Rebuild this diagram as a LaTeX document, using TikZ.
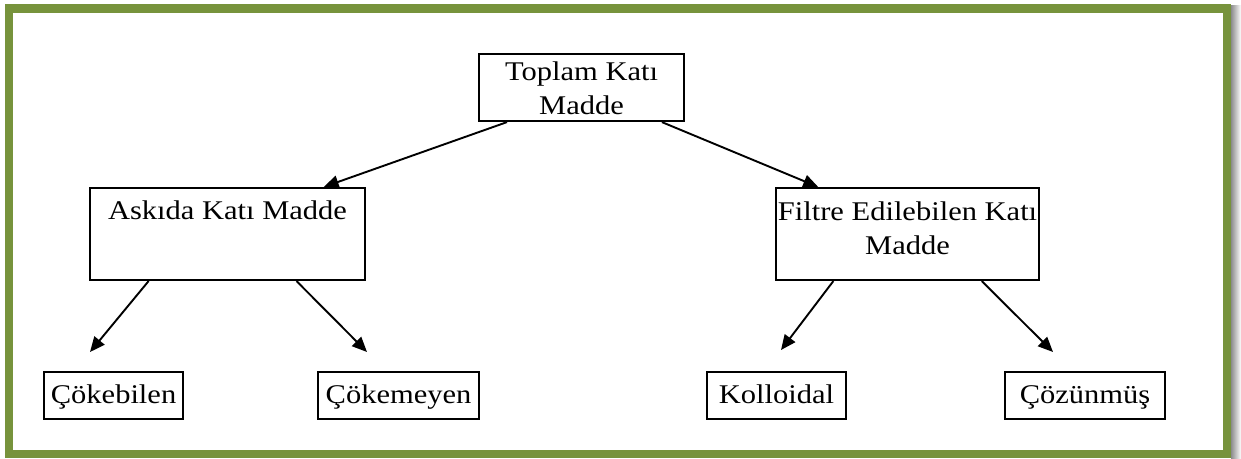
\documentclass[tikz,border=0pt]{standalone}
\usepackage{fontspec}
\setmainfont[FakeStretch=1.13]{Liberation Serif}
\usetikzlibrary{arrows.meta,calc}
\definecolor{frameolive}{RGB}{119,147,60}
% box content: width, height, first-baseline depth from top, lines
\newcommand\boxlines[4]{\parbox[c][#2][t]{#1}{\centering\rule{0pt}{#3}#4}}

\begin{document}
\begin{tikzpicture}[x=1pt,y=-1pt,
  box/.style={draw, line width=2.1pt, inner sep=0pt, anchor=north west,
    font=\fontsize{27}{34}\selectfont},
  link/.style={line width=1.9pt, -{Triangle[length=15pt,width=13pt]}}]
  \useasboundingbox (0,0) rectangle (1241,458);

  % page frame with its shadow
  \shade[left color=black!45, right color=white] (1231,5) rectangle (1241,458);
  \draw[frameolive, line width=8.5pt] (9,8.5) rectangle (1227,454);

  % boxes
  \node[box] (total) at (478,53) {\boxlines{205pt}{67pt}{26pt}{Toplam Katı\\Madde}};
  \node[box] (susp) at (89,187) {\boxlines{275pt}{92pt}{31pt}{Askıda Katı Madde}};
  \node[box] (filt) at (775,187) {\boxlines{263pt}{92pt}{32pt}{Filtre Edilebilen Katı\\Madde}};
  \node[box] (settl) at (43,371) {\boxlines{139pt}{47pt}{31pt}{Çökebilen}};
  \node[box] (nonsettl) at (317,371) {\boxlines{161pt}{47pt}{31pt}{Çökemeyen}};
  \node[box] (coll) at (706,371) {\boxlines{139pt}{47pt}{31pt}{Kolloidal}};
  \node[box] (diss) at (1004,371) {\boxlines{160pt}{47pt}{31pt}{Çözünmüş}};

  % free arrow ends above the lower boxes
  \coordinate (tipSettl) at (90,352);
  \coordinate (tipNonsettl) at (367,352);
  \coordinate (tipColl) at (781,350);
  \coordinate (tipDiss) at (1053,352);

  % connectors
  \draw[link] ($(total.south west)!0.14!(total.south east)$) -- ($(susp.north west)!0.847!(susp.north east)$);
  \draw[link] ($(total.south west)!0.888!(total.south east)$) -- ($(filt.north west)!0.163!(filt.north east)$);
  \draw[link] ($(susp.south west)!0.215!(susp.south east)$) -- (tipSettl);
  \draw[link] ($(susp.south west)!0.749!(susp.south east)$) -- (tipNonsettl);
  \draw[link] ($(filt.south west)!0.22!(filt.south east)$) -- (tipColl);
  \draw[link] ($(filt.south west)!0.78!(filt.south east)$) -- (tipDiss);
\end{tikzpicture}
\end{document}
